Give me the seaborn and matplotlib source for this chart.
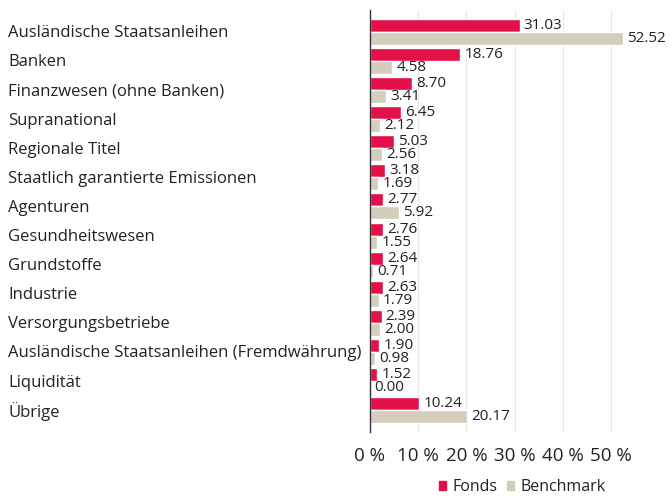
import matplotlib
matplotlib.use("Agg")
import matplotlib.pyplot as plt
import matplotlib.transforms as mtransforms
from matplotlib.patches import Patch
import numpy as np
import pandas as pd
import seaborn as sns

categories = [
    "Ausländische Staatsanleihen",
    "Banken",
    "Finanzwesen (ohne Banken)",
    "Supranational",
    "Regionale Titel",
    "Staatlich garantierte Emissionen",
    "Agenturen",
    "Gesundheitswesen",
    "Grundstoffe",
    "Industrie",
    "Versorgungsbetriebe",
    "Ausländische Staatsanleihen (Fremdwährung)",
    "Liquidität",
    "Übrige",
]
fonds = [31.03, 18.76, 8.70, 6.45, 5.03, 3.18, 2.77, 2.76, 2.64, 2.63, 2.39, 1.90, 1.52, 10.24]
benchmark = [52.52, 4.58, 3.41, 2.12, 2.56, 1.69, 5.92, 1.55, 0.71, 1.79, 2.00, 0.98, 0.00, 20.17]
series = ["Fonds", "Benchmark"]
colors = ["#E4104A", "#D4CDBD"]
x_ticks = [0, 10, 20, 30, 40, 50]

df = pd.DataFrame({
    "Kategorie": categories * 2,
    "Wert": fonds + benchmark,
    "Serie": [series[0]] * len(categories) + [series[1]] * len(categories),
})

sns.set_style("white")
plt.rcParams["font.family"] = ["Open Sans", "DejaVu Sans"]
text_color = "#222222"

fig = plt.figure(figsize=(6.72, 4.98), dpi=100)
ax = fig.add_axes([370 / 672, 1 - 432 / 498, (664 - 370) / 672, (432 - 10) / 498])

sns.barplot(data=df, x="Wert", y="Kategorie", hue="Serie", orient="h",
            palette=colors, width=0.89, ax=ax, legend=False, saturation=1)

for cont in ax.containers:
    ax.bar_label(cont, fmt="%.2f", padding=3, fontsize=11, color=text_color)

ax.set_xlim(0, 61)
ax.set_ylim(len(categories) - 0.25, -0.75)
ax.set_xticks(x_ticks)
ax.set_xticklabels([f"{t} %" for t in x_ticks], fontsize=13.5, color=text_color)
ax.xaxis.grid(True, color="#e6e6e6", linewidth=0.8)
ax.set_axisbelow(True)
ax.tick_params(axis="x", length=0, pad=11)
ax.set_xlabel("")
ax.set_ylabel("")
ax.set_yticks([])
for s in ["top", "right", "bottom"]:
    ax.spines[s].set_visible(False)
ax.spines["left"].set_color("#333333")
ax.spines["left"].set_linewidth(1)

trans = mtransforms.blended_transform_factory(fig.transFigure, ax.transData)
for i, cat in enumerate(categories):
    ax.text(8 / 672, i + 0.05, cat, transform=trans, ha="left", va="center",
            fontsize=12, color=text_color)

handles = [Patch(color=c, label=s) for c, s in zip(colors, series)]
fig.legend(handles=handles, loc="center", bbox_to_anchor=(522 / 672, 1 - 487 / 498),
           ncol=2, frameon=False, fontsize=11.5, handlelength=0.45, handleheight=0.45,
           handletextpad=0.4, columnspacing=0.6, labelcolor=text_color)

fig.savefig("out.png", dpi=100)
